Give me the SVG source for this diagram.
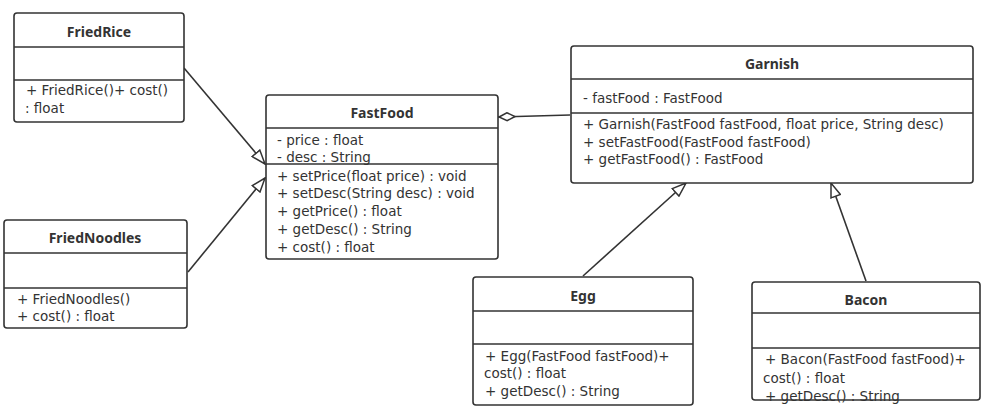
<svg xmlns="http://www.w3.org/2000/svg" width="991" height="415" viewBox="0 0 991 415">
<style>
.box{fill:#fff;stroke:#333;stroke-width:1.6}
.div{stroke:#333;stroke-width:1.6}
.t{font-family:"DejaVu Sans","Noto Sans",sans-serif;font-size:13.5px;fill:#333}
.h{font-family:"Noto Sans","Open Sans",sans-serif;font-size:14px;font-weight:bold;fill:#333;text-anchor:middle}
.ln{stroke:#333;stroke-width:1.6;fill:none}
</style>
<defs>
<marker id="tri" markerWidth="16" markerHeight="12" refX="15" refY="6" orient="auto" markerUnits="userSpaceOnUse">
<path d="M1,1 L15,6 L1,11 Z" fill="#fff" stroke="#333" stroke-width="1.5"/>
</marker>
<marker id="dia" markerWidth="20" markerHeight="10" refX="18" refY="5" orient="auto" markerUnits="userSpaceOnUse">
<path d="M1,5 L9,1 L17,5 L9,9 Z" fill="#fff" stroke="#333" stroke-width="1.5"/>
</marker>
</defs>
<g id="connectors">
<line class="ln" x1="184" y1="68" x2="265" y2="164" marker-end="url(#tri)"/>
<line class="ln" x1="188" y1="272" x2="265" y2="178" marker-end="url(#tri)"/>
<line class="ln" x1="570" y1="115" x2="498" y2="117" marker-end="url(#dia)"/>
<line class="ln" x1="583" y1="276" x2="686" y2="183" marker-end="url(#tri)"/>
<line class="ln" x1="866" y1="281" x2="831" y2="183" marker-end="url(#tri)"/>
</g>
<g id="FriedRice">
<rect class="box" x="14" y="13" width="170" height="109" rx="3"/>
<line class="div" x1="14" y1="47" x2="184" y2="47"/>
<line class="div" x1="14" y1="80" x2="184" y2="80"/>
<text class="h" x="99" y="37">FriedRice</text>
<text class="t" x="26" y="95">+ FriedRice()+ cost()</text>
<text class="t" x="25" y="113">: float</text>
</g>
<g id="FriedNoodles">
<rect class="box" x="4" y="220" width="183" height="108" rx="3"/>
<line class="div" x1="4" y1="253" x2="187" y2="253"/>
<line class="div" x1="4" y1="288" x2="187" y2="288"/>
<text class="h" x="95" y="243">FriedNoodles</text>
<text class="t" x="17" y="304">+ FriedNoodles()</text>
<text class="t" x="17" y="321">+ cost() : float</text>
</g>
<g id="FastFood">
<rect class="box" x="266" y="95" width="232" height="164" rx="3"/>
<line class="div" x1="266" y1="128" x2="498" y2="128"/>
<line class="div" x1="266" y1="164" x2="498" y2="164"/>
<text class="h" x="382" y="118">FastFood</text>
<text class="t" x="277" y="145">- price : float</text>
<text class="t" x="277" y="162">- desc : String</text>
<text class="t" x="277" y="181">+ setPrice(float price) : void</text>
<text class="t" x="277" y="198">+ setDesc(String desc) : void</text>
<text class="t" x="277" y="216">+ getPrice() : float</text>
<text class="t" x="277" y="234">+ getDesc() : String</text>
<text class="t" x="277" y="252">+ cost() : float</text>
</g>
<g id="Garnish">
<rect class="box" x="571" y="46" width="402" height="137" rx="3"/>
<line class="div" x1="571" y1="79" x2="973" y2="79"/>
<line class="div" x1="571" y1="113" x2="973" y2="113"/>
<text class="h" x="772" y="69">Garnish</text>
<text class="t" x="583" y="103">- fastFood : FastFood</text>
<text class="t" x="583" y="129">+ Garnish(FastFood fastFood, float price, String desc)</text>
<text class="t" x="583" y="147">+ setFastFood(FastFood fastFood)</text>
<text class="t" x="583" y="164">+ getFastFood() : FastFood</text>
</g>
<g id="Egg">
<rect class="box" x="473" y="277" width="220" height="128" rx="3"/>
<line class="div" x1="473" y1="311" x2="693" y2="311"/>
<line class="div" x1="473" y1="344" x2="693" y2="344"/>
<text class="h" x="583" y="301">Egg</text>
<text class="t" x="485" y="361">+ Egg(FastFood fastFood)+</text>
<text class="t" x="484" y="378">cost() : float</text>
<text class="t" x="485" y="396">+ getDesc() : String</text>
</g>
<g id="Bacon">
<rect class="box" x="752" y="282" width="228" height="118" rx="3"/>
<line class="div" x1="752" y1="313" x2="980" y2="313"/>
<line class="div" x1="752" y1="348" x2="980" y2="348"/>
<text class="h" x="866" y="305">Bacon</text>
<text class="t" x="765" y="364">+ Bacon(FastFood fastFood)+</text>
<text class="t" x="763" y="383">cost() : float</text>
<text class="t" x="765" y="401">+ getDesc() : String</text>
</g>
</svg>
